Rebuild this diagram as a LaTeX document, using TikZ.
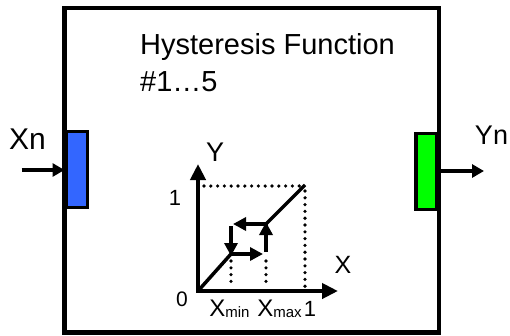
\documentclass[tikz,border=0pt]{standalone}
\usepackage{fontspec}
\setmainfont{Liberation Sans}
\usetikzlibrary{arrows.meta}
\begin{document}
\begin{tikzpicture}[x=1pt,y=-1pt,
  frame/.style={draw=black, line width=4.5pt, inner sep=0pt, outer sep=0pt},
  port/.style={draw=black, line width=3.5pt, inner sep=0pt, outer sep=0pt, minimum width=21pt, minimum height=76pt},
  sigarrow/.style={line width=4pt, -{Triangle[length=12pt,width=13pt]}},
  axisarrow/.style={line width=4pt, -{Triangle[length=16pt,width=15pt]}},
  looparrow/.style={line width=4pt, -{Triangle[length=13pt,width=13pt]}},
  curve/.style={line width=3.5pt},
  dotline/.style={line width=3.6pt, dash pattern=on 0pt off 6.8pt, line cap=round},
  lbl/.style={inner sep=0pt, anchor=base},
  big/.style={font=\fontsize{29}{34}\selectfont},
  mid/.style={font=\fontsize{25}{28}\selectfont},
  num/.style={font=\fontsize{22}{24}\selectfont}]
\useasboundingbox (0,0) rectangle (510,335);
% main block
\node[frame, minimum width=374.5pt, minimum height=324.5pt] (box) at (251.75,170.25) {};
% ports
\node[port, fill={rgb,255:red,51;green,102;blue,255}] (inport) at (77,169.5) {};
\node[port, fill={rgb,255:red,0;green,255;blue,0}, minimum width=20.5pt] (outport) at (426,171.5) {};
% signal arrows
\coordinate (xin) at (21.5,170);
\coordinate (yout) at (484,171);
\draw[sigarrow] (xin) -- (xin -| box.west);
\draw[sigarrow] (outport.east |- yout) -- (yout);
\node[lbl, font=\fontsize{30}{34}\selectfont] (xn) at (27.5,149.3) {Xn};
\node[lbl, font=\fontsize{27}{30}\selectfont] (yn) at (491.5,144) {Yn};
% title
\node[lbl, big, anchor=base west] (title1) at (140,54) {Hysteresis Function};
\node[lbl, big, anchor=base west] (title2) at (140,91.5) {\#1…5};
% graph
\coordinate (O) at (198,291);
\coordinate (ytop) at (198,164);
\coordinate (xend) at (338,291);
\coordinate (P1) at (305,185);
\coordinate (A) at (231,254);
\coordinate (B) at (266,254);
\coordinate (C) at (266,224);
\coordinate (D) at (231,224);
\draw[dotline] (204,186) -- (300,186);
\draw[dotline] (305,191) -- (305,287);
\draw[dotline] (231,261) -- (231,287);
\draw[dotline] (266,261) -- (266,287);
\draw[axisarrow] ([yshift=2pt]O) -- (ytop);
\draw[axisarrow] ([xshift=-2pt]O) -- (xend);
\draw[curve] (O) -- (A);
\draw[curve] (C) -- (P1);
\draw[looparrow] (A) -- ([xshift=-3pt]B);
\draw[looparrow] ([yshift=2pt]B) -- ([yshift=2pt]C);
\draw[looparrow] ([xshift=2pt]C) -- ([xshift=2pt]D);
\draw[looparrow] ([yshift=-2pt]D) -- ([yshift=-2pt]A);
% axis labels
\node[lbl, font=\fontsize{27}{30}\selectfont] (ylab) at (215,161.5) {Y};
\node[lbl, mid] (xlab) at (343,273) {X};
\node[lbl, num] (one1) at (175,205) {1};
\node[lbl, font=\fontsize{21}{24}\selectfont] (zero) at (182,306.5) {0};
\node[lbl, num] (one2) at (310,316) {1};
\node[lbl, font=\fontsize{24}{26}\selectfont] (xmin) at (229.5,316) {X\raisebox{-1pt}{\fontsize{15}{16}\selectfont min}};
\node[lbl, font=\fontsize{24}{26}\selectfont] (xmax) at (279.5,316) {X\raisebox{-1pt}{\fontsize{15}{16}\selectfont max}};
\end{tikzpicture}
\end{document}
